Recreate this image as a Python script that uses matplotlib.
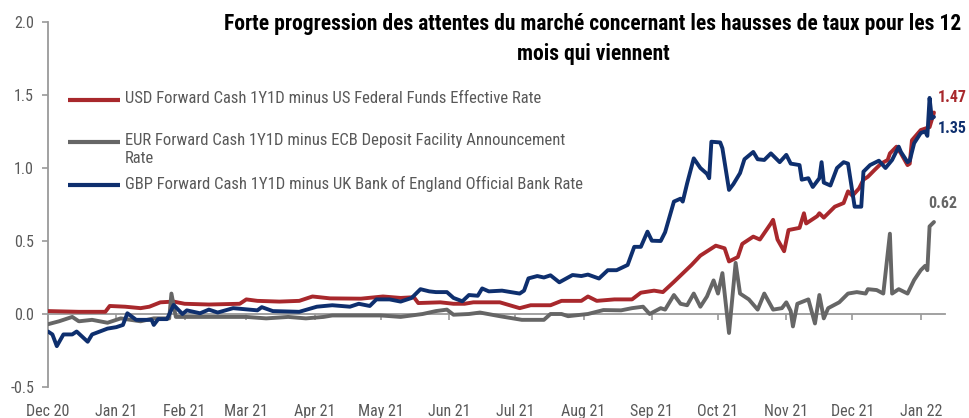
import matplotlib
matplotlib.use("Agg")
import matplotlib.pyplot as plt
import matplotlib.dates as mdates
from matplotlib.lines import Line2D
from matplotlib import font_manager as fm
import pandas as pd

# ---------------- data ----------------
usd_dates = ["2020-12-01","2020-12-15","2020-12-27","2020-12-29","2021-01-05","2021-01-12","2021-01-16","2021-01-21",
             "2021-01-27","2021-02-01","2021-02-12","2021-02-26","2021-03-01","2021-03-06","2021-03-16","2021-03-25",
             "2021-03-31","2021-04-08","2021-04-22","2021-05-02","2021-05-10","2021-05-16","2021-05-18","2021-05-28",
             "2021-06-03","2021-06-08","2021-06-12","2021-06-24","2021-07-03","2021-07-08","2021-07-17","2021-07-22",
             "2021-07-31","2021-08-03","2021-08-07","2021-08-15","2021-08-23","2021-08-27","2021-09-02","2021-09-06",
             "2021-09-11","2021-09-19","2021-09-23","2021-09-30","2021-10-04","2021-10-06","2021-10-10","2021-10-12",
             "2021-10-17","2021-10-20","2021-10-25","2021-10-26","2021-10-28","2021-10-31","2021-11-02","2021-11-07",
             "2021-11-09","2021-11-10","2021-11-15","2021-11-16","2021-11-18","2021-11-23","2021-11-27","2021-11-29",
             "2021-12-01","2021-12-04","2021-12-06","2021-12-08","2021-12-11","2021-12-14","2021-12-17","2021-12-18",
             "2021-12-21","2021-12-23","2021-12-26","2021-12-27","2021-12-28","2022-01-01","2022-01-03","2022-01-05",
             "2022-01-07"]
usd_vals = [0.02,0.015,0.015,0.055,0.05,0.04,0.05,0.08,0.085,0.07,0.065,0.07,0.10,0.09,0.085,0.09,0.12,0.107,0.105,
            0.12,0.11,0.115,0.075,0.08,0.07,0.07,0.08,0.08,0.04,0.06,0.06,0.09,0.09,0.12,0.09,0.10,0.10,0.146,0.16,
            0.15,0.22,0.336,0.40,0.468,0.45,0.36,0.39,0.48,0.53,0.51,0.62,0.645,0.51,0.43,0.575,0.59,0.69,0.62,0.67,
            0.69,0.66,0.735,0.76,0.84,0.81,0.86,0.92,0.94,0.986,1.03,1.055,1.10,1.146,1.10,1.02,1.03,1.19,1.26,1.27,
            1.28,1.38]

eur_dates = ["2020-12-01","2020-12-06","2020-12-12","2020-12-15","2020-12-21","2020-12-28","2021-01-03","2021-01-12",
             "2021-01-18","2021-01-25","2021-01-26","2021-01-28","2021-02-02","2021-02-08","2021-02-20","2021-03-01",
             "2021-03-10","2021-03-20","2021-03-28","2021-04-05","2021-04-09","2021-04-20","2021-05-01","2021-05-10",
             "2021-05-15","2021-05-20","2021-05-26","2021-05-31","2021-06-03","2021-06-10","2021-06-15","2021-06-24",
             "2021-07-04","2021-07-14","2021-07-17","2021-07-22","2021-07-25","2021-08-03","2021-08-10","2021-08-18",
             "2021-08-23","2021-08-28","2021-08-31","2021-09-05","2021-09-07","2021-09-11","2021-09-14","2021-09-17",
             "2021-09-20","2021-09-23","2021-09-26","2021-09-29","2021-10-01","2021-10-03","2021-10-06","2021-10-09",
             "2021-10-11","2021-10-15","2021-10-19","2021-10-22","2021-10-26","2021-10-30","2021-11-01","2021-11-03",
             "2021-11-04","2021-11-06","2021-11-11","2021-11-14","2021-11-16","2021-11-18","2021-11-20","2021-11-25",
             "2021-11-29","2021-12-03","2021-12-07","2021-12-08","2021-12-12","2021-12-15","2021-12-18","2021-12-19",
             "2021-12-22","2021-12-26","2021-12-29","2022-01-01","2022-01-03","2022-01-04","2022-01-05","2022-01-07"]
eur_vals = [-0.07,-0.05,-0.02,-0.05,-0.04,-0.06,-0.03,-0.05,-0.03,-0.03,0.14,-0.02,-0.02,-0.02,-0.02,-0.02,
            -0.03,-0.02,-0.03,-0.02,-0.01,-0.01,-0.01,-0.02,-0.01,0.0,0.02,0.03,-0.005,0.0,0.01,-0.015,
            -0.04,-0.04,0.0,0.0,-0.015,0.0,0.027,0.025,0.04,0.05,0.0,0.04,0.03,0.13,0.07,0.06,
            0.14,0.05,0.12,0.23,0.14,0.28,-0.13,0.35,0.14,0.10,0.03,0.14,0.03,0.04,0.08,0.02,
            -0.085,0.07,0.10,-0.065,0.13,-0.03,0.04,0.08,0.14,0.15,0.14,0.17,0.164,0.14,0.55,0.14,
            0.17,0.14,0.233,0.30,0.33,0.30,0.60,0.63]

gbp_dates = ["2020-12-01","2020-12-03","2020-12-05","2020-12-08","2020-12-12","2020-12-14","2020-12-19","2020-12-21",
             "2020-12-28","2021-01-01","2021-01-04","2021-01-06","2021-01-10","2021-01-17","2021-01-18","2021-01-20",
             "2021-01-24","2021-01-27","2021-01-31","2021-02-02","2021-02-08","2021-02-12","2021-02-16","2021-02-23",
             "2021-03-06","2021-03-08","2021-03-13","2021-03-25","2021-04-02","2021-04-09","2021-04-17","2021-04-21",
             "2021-04-26","2021-04-29","2021-05-05","2021-05-10","2021-05-15","2021-05-19","2021-05-23","2021-05-26",
             "2021-05-31","2021-06-03","2021-06-07","2021-06-10","2021-06-14","2021-06-16","2021-06-19","2021-06-25",
             "2021-06-29","2021-07-03","2021-07-05","2021-07-07","2021-07-11","2021-07-14","2021-07-17","2021-07-21",
             "2021-07-27","2021-07-31","2021-08-03","2021-08-08","2021-08-12","2021-08-16","2021-08-21","2021-08-24",
             "2021-08-27","2021-08-30","2021-09-01","2021-09-05","2021-09-07","2021-09-11","2021-09-14","2021-09-15",
             "2021-09-17","2021-09-20","2021-09-23","2021-09-26","2021-09-27","2021-09-28","2021-10-02","2021-10-03",
             "2021-10-06","2021-10-08","2021-10-11","2021-10-13","2021-10-17","2021-10-19","2021-10-22","2021-10-25",
             "2021-10-29","2021-11-01","2021-11-03","2021-11-07","2021-11-08","2021-11-11","2021-11-13","2021-11-16",
             "2021-11-17","2021-11-18","2021-11-21","2021-11-24","2021-11-27","2021-11-29","2021-12-02","2021-12-05",
             "2021-12-06","2021-12-09","2021-12-13","2021-12-16","2021-12-19","2021-12-22","2021-12-23","2021-12-26",
             "2021-12-27","2021-12-29","2022-01-01","2022-01-03","2022-01-04","2022-01-05","2022-01-06","2022-01-07"]
gbp_vals = [-0.12,-0.14,-0.22,-0.14,-0.14,-0.12,-0.19,-0.14,-0.10,-0.09,-0.075,0.005,-0.04,-0.04,-0.075,-0.035,
            -0.035,0.062,0.0,0.025,0.005,0.03,0.01,0.04,0.025,0.047,0.02,0.015,0.05,0.06,0.05,0.07,
            0.055,0.10,0.10,0.085,0.11,0.17,0.155,0.15,0.15,0.11,0.087,0.13,0.125,0.175,0.155,0.16,
            0.15,0.14,0.16,0.244,0.26,0.25,0.265,0.217,0.267,0.26,0.27,0.243,0.30,0.30,0.336,0.46,
            0.46,0.564,0.502,0.50,0.56,0.77,0.79,0.77,0.895,1.066,1.00,0.96,0.93,1.18,1.175,1.135,
            0.85,0.89,0.965,1.06,1.11,1.06,1.055,1.10,1.04,1.09,1.03,1.02,0.92,0.93,0.87,0.93,
            1.04,0.90,0.88,1.00,1.04,1.03,0.735,0.735,0.975,1.02,1.05,1.00,1.055,1.146,1.11,1.04,
            1.05,1.17,1.24,1.25,1.22,1.48,1.34,1.35]

series_labels = ["USD Forward Cash 1Y1D minus US Federal Funds Effective Rate",
                 "EUR Forward Cash 1Y1D minus ECB Deposit Facility Announcement\nRate",
                 "GBP Forward Cash 1Y1D minus UK Bank of England Official Bank Rate"]
end_labels = ["1.47", "0.62", "1.35"]
title = ("Forte progression des attentes du marché concernant les hausses de taux pour les 12\n"
         "mois qui viennent")

# ---------------- style ----------------
names = {f.name for f in fm.fontManager.ttflist}
cands = ["Roboto Condensed", "Liberation Sans Narrow", "DejaVu Sans Condensed",
         "Open Sans Condensed", "Noto Sans Condensed"]
FONT = next((c for c in cands if c in names), None)
STRETCH = "normal"
if FONT is None:
    FONT = "DejaVu Sans"
    STRETCH = "condensed"
plt.rcParams["font.family"] = [FONT, "DejaVu Sans"]
plt.rcParams["font.stretch"] = STRETCH

RED = "#A8282C"
GREY = "#666666"
NAVY = "#0E2F6E"
TXT = "#595959"
AX = "#9A9A9A"
colors = [RED, GREY, NAVY]

fig = plt.figure(figsize=(9.69, 4.18), dpi=100)
ax = fig.add_axes([48/969, 1-387/418, (945-48)/969, (387-22)/418])

series = [
    pd.Series(usd_vals, index=pd.to_datetime(usd_dates)),
    pd.Series(eur_vals, index=pd.to_datetime(eur_dates)),
    pd.Series(gbp_vals, index=pd.to_datetime(gbp_dates)),
]
for s, c in zip(series, colors):
    ax.plot(s.index, s.values, color=c, lw=2.8, solid_joinstyle="round", solid_capstyle="round", zorder=3)

ax.set_xlim(pd.Timestamp("2020-12-01"), pd.Timestamp("2022-01-12"))
ax.set_ylim(-0.5, 2.0)
ax.set_yticks([-0.5, 0.0, 0.5, 1.0, 1.5, 2.0])
ax.set_yticklabels(["-0.5", "0.0", "0.5", "1.0", "1.5", "2.0"])

ax.xaxis.set_major_locator(mdates.MonthLocator())
ax.xaxis.set_major_formatter(mdates.DateFormatter("%b %y"))

for sp in ["top", "right"]:
    ax.spines[sp].set_visible(False)
ax.spines["bottom"].set_position(("data", 0))
ax.spines["bottom"].set_color(AX)
ax.spines["left"].set_color(AX)
ax.spines["bottom"].set_linewidth(1.3)
ax.spines["left"].set_linewidth(1.3)
ax.tick_params(axis="y", colors=AX, labelcolor=TXT, labelsize=11.5, length=4, width=1.2, pad=6)
ax.tick_params(axis="x", colors=AX, labelcolor=TXT, labelsize=11.5, length=4, width=1.2, pad=61)

# legend drawn manually (axes coordinates): handle y, text top y
leg_y = [0.786, 0.671, 0.553]
for lab, c, y in zip(series_labels, colors, leg_y):
    ax.add_line(Line2D([0.0223, 0.0803], [y, y], transform=ax.transAxes, color=c, lw=3.0,
                       solid_capstyle="butt", clip_on=False))
    ax.text(0.0858, y + 0.026, lab, transform=ax.transAxes, ha="left", va="top",
            fontsize=12, color=TXT, linespacing=1.25)

# end labels
offsets = [(3, 11), (6, 13), (3, -8)]
has = ["left", "center", "left"]
for s, c, t, off, ha in zip(series, colors, end_labels, offsets, has):
    ax.annotate(t, xy=(s.index[-1], s.values[-1]), xytext=off, textcoords="offset points",
                ha=ha, va="center", color=c, fontsize=11.5, fontweight="bold")

fig.text(0.612, 0.968, title, ha="center", va="top", fontsize=15.5, fontweight="bold",
         color="black", linespacing=1.45)

fig.savefig("out.png", dpi=100)
